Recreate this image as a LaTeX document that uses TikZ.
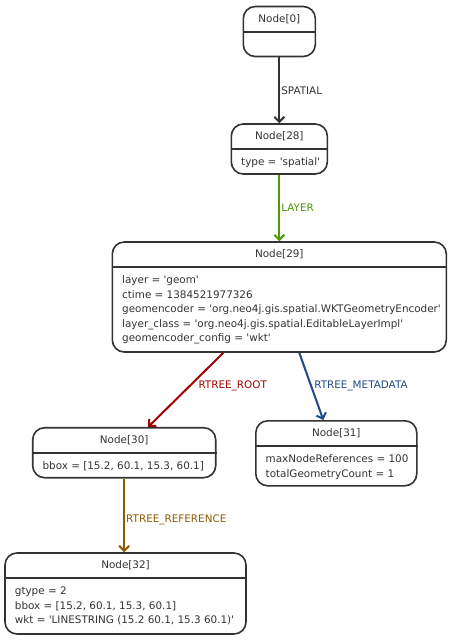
\documentclass[tikz,border=0pt]{standalone}
\usepackage{fontspec}
\newfontfamily\diagfont{DejaVu Sans}
\usetikzlibrary{arrows.meta}
\definecolor{boxgray}{HTML}{333333}
\definecolor{layergreen}{HTML}{4E9A06}
\definecolor{rootred}{HTML}{A40000}
\definecolor{metablue}{HTML}{204A87}
\definecolor{refbrown}{HTML}{8F5902}
\newcommand{\nodefont}{\diagfont\fontsize{10.4}{14.5}\selectfont}

\begin{document}
\begin{tikzpicture}[x=1pt, y=-1pt,
	entity/.style={draw=boxgray, line width=1.6pt, rounded corners=12pt},
	title/.style={font=\nodefont, text=boxgray, inner sep=0pt},
	props/.style={font=\nodefont, text=boxgray, align=left, anchor=north west, inner sep=0pt},
	rel/.style={line width=2pt, -{Straight Barb[length=5pt,width=10pt]}},
	rellabel/.style={font=\nodefont, inner sep=0pt}]
	\useasboundingbox (0,0) rectangle (451,640);

	\node (n0) at (279.3,31.5) [entity, minimum width=72pt, minimum height=50pt] {};
		\node (n28) at (279.3,149) [entity, minimum width=96pt, minimum height=50pt] {};
			\node (n29) at (279.3,297) [entity, minimum width=334pt, minimum height=110pt] {};
				\node (n30) at (124.2,452.7) [entity, minimum width=183pt, minimum height=50pt] {};
					\node (n32) at (125.5,593.5) [entity, minimum width=241pt, minimum height=81pt] {};
				\node (n31) at (336.3,453.3) [entity, minimum width=161pt, minimum height=65pt] {};

	\foreach \n in {n0,n28,n29,n30,n31,n32}
		\draw[boxgray, line width=1.6pt] ([yshift=-26pt]\n.north west) -- ([yshift=-26pt]\n.north east);

	\node (n0t) [title] at ([yshift=-13.5pt]n0.north) {Node[0]};
	\node (n28t) [title] at ([yshift=-13.5pt]n28.north) {Node[28]};
	\node (n29t) [title] at ([yshift=-13.5pt]n29.north) {Node[29]};
	\node (n30t) [title] at ([yshift=-13.5pt]n30.north) {Node[30]};
	\node (n31t) [title] at ([yshift=-13.5pt]n31.north) {Node[31]};
	\node (n32t) [title] at ([yshift=-13.5pt]n32.north) {Node[32]};

	\node (n28p) [props] at ([xshift=10.5pt,yshift=-34.4pt]n28.north west) {type = 'spatial'};
	\node (n29p) [props] at ([xshift=10.5pt,yshift=-34.4pt]n29.north west) {layer = 'geom'\\
		ctime = 1384521977326\\
		geomencoder = 'org.neo4j.gis.spatial.WKTGeometryEncoder'\\
		layer\_class = 'org.neo4j.gis.spatial.EditableLayerImpl'\\
		geomencoder\_config = 'wkt'};
	\node (n30p) [props] at ([xshift=10.5pt,yshift=-34.4pt]n30.north west) {bbox = [15.2, 60.1, 15.3, 60.1]};
	\node (n31p) [props] at ([xshift=10.5pt,yshift=-34.4pt]n31.north west) {maxNodeReferences = 100\\
		totalGeometryCount = 1};
	\node (n32p) [props] at ([xshift=10.5pt,yshift=-34.4pt]n32.north west) {gtype = 2\\
		bbox = [15.2, 60.1, 15.3, 60.1]\\
		wkt = 'LINESTRING (15.2 60.1, 15.3 60.1)'};

	\draw[rel, boxgray] (n0) to node [rellabel, right=1pt] {SPATIAL} (n28);
	\draw[rel, layergreen] (n28) to node [rellabel, right=1pt] {LAYER} (n29);
	\draw[rel, rootred] ([xshift=-56pt]n29.south) to node [rellabel, pos=0.45, right=8pt] {RTREE\_ROOT} ([xshift=24pt]n30.north);
	\draw[rel, metablue] ([xshift=20pt]n29.south) to node [rellabel, pos=0.5, right=2pt] {RTREE\_METADATA} ([xshift=-13pt]n31.north);
	\draw[rel, refbrown] (n30.south) to node [rellabel, pos=0.56, right=1pt] {RTREE\_REFERENCE} (n30.south |- n32.north);
\end{tikzpicture}
\end{document}
